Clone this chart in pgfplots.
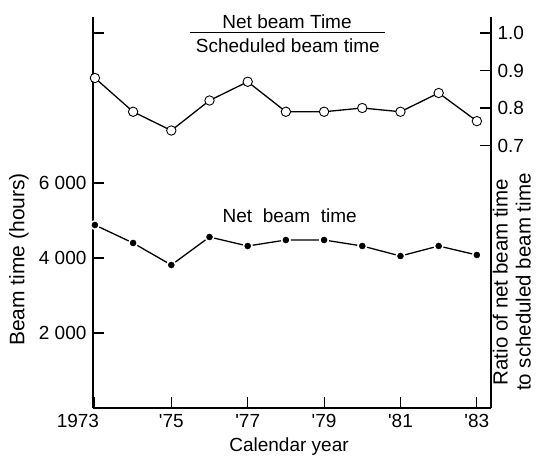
\documentclass[border=0pt]{standalone}
\usepackage{fontspec}
\setmainfont{Liberation Sans}
\usepackage{pgfplots}
\pgfplotsset{compat=1.18}
\begin{document}
\fontsize{19}{22}\selectfont
\begin{tikzpicture}
\path[use as bounding box] (-93pt,-49pt) rectangle (444pt,408pt);
\begin{axis}[
  at={(0pt,0pt)}, anchor=south west,
  width=398pt, height=391pt, scale only axis,
  xmin=1972.95, xmax=1983.37, ymin=0, ymax=10427,
  scaled y ticks=false, scaled x ticks=false,
  axis y line*=left, axis x line*=bottom,
  axis line style={line width=1.1pt},
  every tick/.style={line width=1.1pt, black},
  major tick length=11pt, tick align=inside,
  xtick={1973,1975,1977,1979,1981,1983},
  xticklabels={1973\hspace*{34pt},\textquotesingle75,\textquotesingle77,\textquotesingle79,\textquotesingle81,\textquotesingle83},
  ytick={2000,4000,6000,10000},
  yticklabels={2~000,4~000,6~000,{}},
  ylabel={Beam time (hours)},
  ylabel style={at={(rel axis cs:-0.186,0.38)}, anchor=center, font=\fontsize{21}{24}\selectfont},
  xlabel={Calendar year},
  xlabel style={at={(rel axis cs:0.4925,-0.110)}, anchor=base},
  clip=false,
]
\addplot[line width=1.3pt, mark=*, mark size=4.3pt,
  mark options={fill=black, draw=white, line width=1.6pt}]
  coordinates {(1973,4880) (1974,4400) (1975,3813) (1976,4560) (1977,4320)
   (1978,4480) (1979,4480) (1980,4320) (1981,4053) (1982,4320) (1983,4080)};
\node[anchor=base] at (axis cs:1978.03,10133) {Net beam Time};
\draw[line width=0.9pt] (axis cs:1975.49,10019) -- (axis cs:1980.59,10019);
\node[anchor=base] at (axis cs:1978.05,9493) {Scheduled beam time};
\node[anchor=base] at (axis cs:1978.1,4960) {Net\ \ beam\ \ time};
\end{axis}
\begin{axis}[
  at={(0pt,0pt)}, anchor=south west,
  width=398pt, height=391pt, scale only axis,
  xmin=1972.95, xmax=1983.37, ymin=0, ymax=1.0427,
  axis y line*=right, axis x line=none,
  axis line style={line width=1.1pt},
  every tick/.style={line width=1.1pt, black},
  major tick length=11pt, tick align=inside,
  ytick={0.7,0.8,0.9,1.0},
  yticklabels={0.7,0.8,0.9,1.0},
  ylabel={Ratio of net beam time\\to scheduled beam time},
  ylabel style={at={(rel axis cs:1.052,0.322)}, anchor=center, align=center, font=\fontsize{20.5}{23}\selectfont},
  clip=false,
]
\addplot[line width=1.3pt, mark=*, mark size=4.7pt,
  mark options={fill=white, draw=black, line width=0.9pt}]
  coordinates {(1973,0.88) (1974,0.79) (1975,0.74) (1976,0.82) (1977,0.87)
   (1978,0.79) (1979,0.79) (1980,0.80) (1981,0.79) (1982,0.84) (1983,0.765)};
\end{axis}
\end{tikzpicture}
\end{document}
